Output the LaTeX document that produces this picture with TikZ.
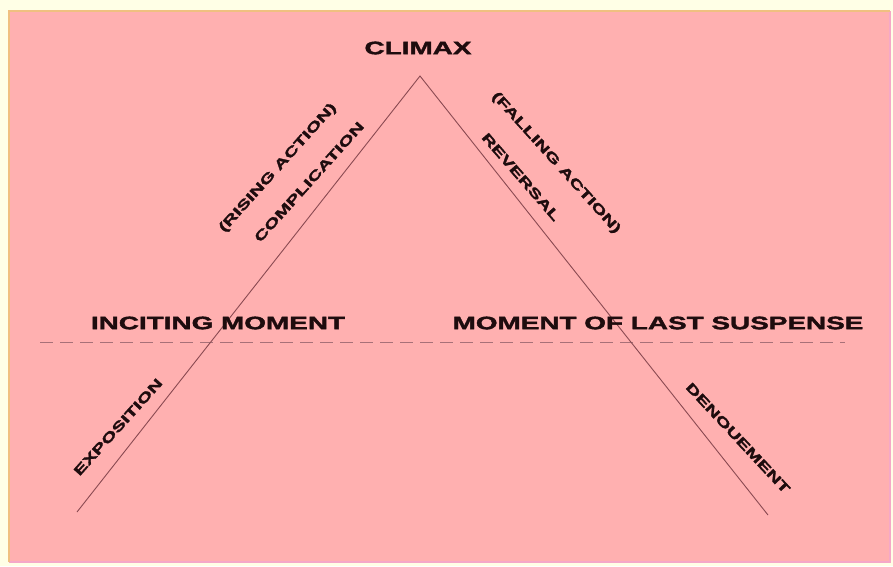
\documentclass[tikz,border=0pt]{standalone}
\usepackage{fontspec}
\newfontfamily\lblfont[FakeStretch=1.55, FakeBold=2.2]{Liberation Sans}
\definecolor{cream}{HTML}{FFFFE6}
\definecolor{pinkbg}{HTML}{FFB0B0}
\definecolor{edgeor}{HTML}{F0C080}
\definecolor{edgelav}{HTML}{F5A8C8}
\definecolor{linecol}{HTML}{8A4A52}
\definecolor{dashcol}{HTML}{A87078}
\definecolor{txtcol}{HTML}{1E0C0E}
\tikzset{
  stage/.style={line width=0.9pt, draw=linecol},
  divider/.style={line width=0.9pt, draw=dashcol, dash pattern=on 13pt off 7pt},
  biglabel/.style={text=txtcol, font=\lblfont\bfseries\fontsize{18}{20}\selectfont, inner sep=0pt},
  sidelabel/.style={text=txtcol, font=\lblfont\bfseries\fontsize{13.2}{15}\selectfont, inner sep=0pt, align=center}
}
\begin{document}
\begin{tikzpicture}[x=1pt,y=-1pt]
\useasboundingbox (0,0) rectangle (893,566);
\fill[cream] (0,0) rectangle (893,566);
\fill[pinkbg] (9,11) rectangle (890,562);
\draw[edgelav, line width=2pt] (9,562) -- (890,562) -- (890,11);
\draw[edgeor, line width=2.5pt] (9,562) -- (9,11) -- (890,11);

\coordinate (apex) at (420,76);
\coordinate (lfoot) at (77,512);
\coordinate (rfoot) at (768,515);
\coordinate (dl) at (40,342);
\coordinate (dr) at (845,342);

\draw[divider] (dl) -- (dr);
\draw[stage] (lfoot) -- (apex) -- (rfoot);

\node[biglabel] (climax) at (418,48) {CLIMAX};
\node[biglabel] (incite) at (218,323) {INCITING MOMENT};
\node[biglabel] (suspense) at (658,323) {MOMENT OF LAST SUSPENSE};

\node[sidelabel, rotate=48] (rising) at (278,168) {(RISING ACTION)};
\node[sidelabel, rotate=48] (compl) at (309,182) {COMPLICATION};
\node[sidelabel, rotate=-48] (falling) at (556,163) {(FALLING ACTION)};
\node[sidelabel, rotate=-49] (reversal) at (521,177) {REVERSAL};
\node[sidelabel, rotate=48] (expo) at (118,427) {EXPOSITION};
\node[sidelabel, rotate=-47] (denou) at (738,438) {DENOUEMENT};
\end{tikzpicture}
\end{document}
